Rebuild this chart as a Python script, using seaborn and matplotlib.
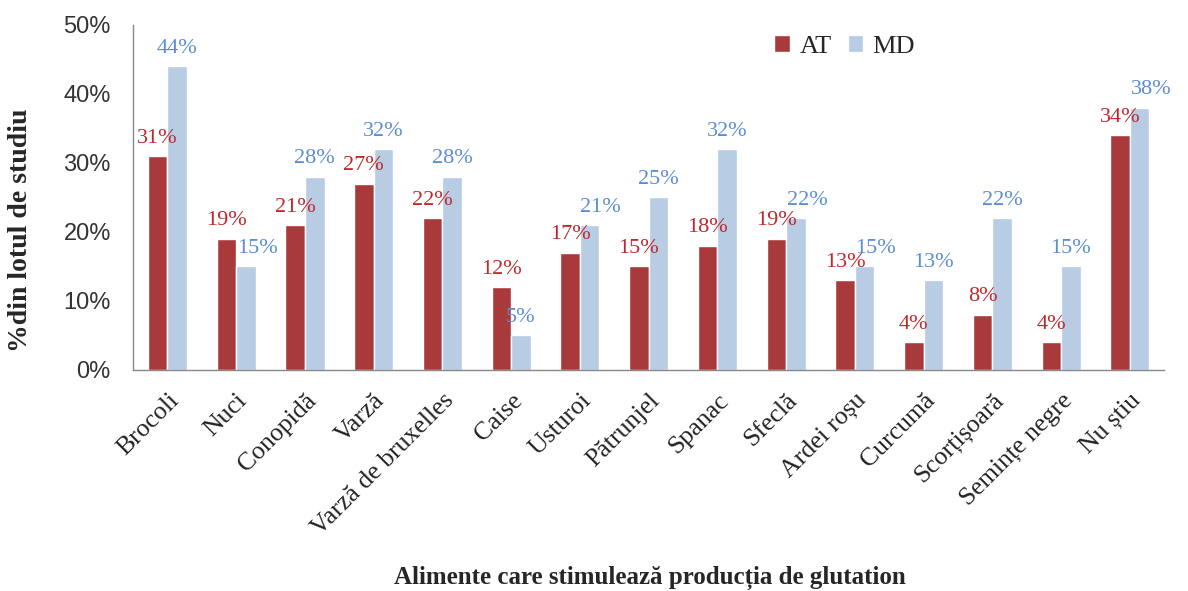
import matplotlib
matplotlib.use('Agg')
import matplotlib.pyplot as plt
import seaborn as sns
import pandas as pd
from matplotlib.ticker import PercentFormatter

categories = ['Brocoli', 'Nuci', 'Conopidă', 'Varză', 'Varză de bruxelles', 'Caise',
              'Usturoi', 'Pătrunjel', 'Spanac', 'Sfeclă', 'Ardei roșu', 'Curcumă',
              'Scorțișoară', 'Semințe negre', 'Nu știu']
at_values = [31, 19, 21, 27, 22, 12, 17, 15, 18, 19, 13, 4, 8, 4, 34]
md_values = [44, 15, 28, 32, 28, 5, 21, 25, 32, 22, 15, 13, 22, 15, 38]
groups = ['AT', 'MD']

df = pd.DataFrame({
    'cat': categories * 2,
    'val': at_values + md_values,
    'grp': ['AT'] * len(categories) + ['MD'] * len(categories),
})

bar_colors = {'AT': '#A83A3B', 'MD': '#B8CCE4'}
label_colors = ['#C0282D', '#5B8DD3']

sns.set_style('white')
serif = ['Liberation Serif', 'DejaVu Serif']
sans = ['Liberation Sans', 'DejaVu Sans']

fig = plt.figure(figsize=(11.88, 5.91), dpi=100)
ax = fig.add_axes([0.112, 0.374, 0.868, 0.584])

sns.barplot(data=df, x='cat', y='val', hue='grp', hue_order=groups, palette=bar_colors,
            width=0.57, saturation=1, ax=ax, legend=True)

texts = []
for cont, col in zip(ax.containers, label_colors):
    texts.append(ax.bar_label(cont, labels=[f'{int(v)}%' for v in cont.datavalues], padding=6,
                              color=col, fontsize=16, family=serif))

# like Excel, push the MD label aside when the two labels would collide
for a, m, t in zip(at_values, md_values, texts[1]):
    if abs(a - m) <= 4:
        t.xyann = (8, t.xyann[1])

ax.set_ylim(0, 50)
ax.set_xlim(-0.5, len(categories) - 0.5)
ax.set_yticks(range(0, 51, 10))
ax.yaxis.set_major_formatter(PercentFormatter(decimals=0))
for lbl in ax.get_yticklabels():
    lbl.set_family(sans)
    lbl.set_fontsize(17)
    lbl.set_color('#333333')
ax.tick_params(axis='y', length=5, width=1, color='#888888', direction='out', pad=11)
ax.tick_params(axis='x', length=0, pad=14)
ax.set_xticks(range(len(categories)))
ax.set_xticklabels(categories, rotation=45, ha='right', rotation_mode='anchor',
                   family=serif, fontsize=18.5, color='#222222')

for s in ['top', 'right']:
    ax.spines[s].set_visible(False)
for s in ['left', 'bottom']:
    ax.spines[s].set_color('#888888')
    ax.spines[s].set_linewidth(1)

ax.set_ylabel('%din lotul de studiu', family=serif, fontsize=20, fontweight='bold')
ax.yaxis.set_label_coords(-0.097, 0.406)
ax.set_xlabel('')
fig.text(0.547, 0.012, 'Alimente care stimulează producția de glutation', ha='center',
         family=serif, fontsize=18, fontweight='bold')

leg = ax.legend(loc='upper left', bbox_to_anchor=(0.622, 0.97), ncol=2, frameon=False,
                borderaxespad=0, borderpad=0,
                handlelength=0.6, handleheight=0.6, handletextpad=0.35, columnspacing=0.6,
                prop={'family': serif, 'size': 19})

fig.savefig('out.png', dpi=100)
